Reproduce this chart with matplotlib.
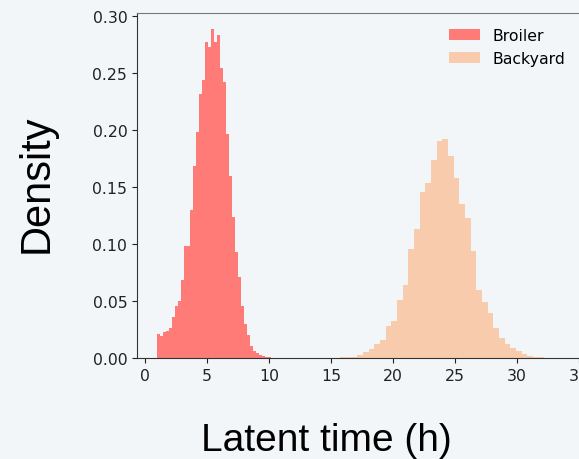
"""
Latent time distributions for broiler vs backyard flocks.
Run: python plot.py -> out.png
"""

import numpy as np
import matplotlib
matplotlib.use("Agg")
import matplotlib.pyplot as plt

# ---------------------------------------------------------------------------
# Data (histogram densities)
# ---------------------------------------------------------------------------
BROILER_START = 1.0     # left edge of first bin (h)
BROILER_WIDTH = 0.242   # bin width (h)
broiler_density = [
    0.0210, 0.0196, 0.0225, 0.0240, 0.0260, 0.0357, 0.0460, 0.0500,
    0.0680, 0.0985, 0.0985, 0.1300, 0.1680, 0.1980, 0.2316, 0.2440,
    0.2770, 0.2725, 0.2886, 0.2770, 0.2836, 0.2540, 0.2420, 0.1965,
    0.1600, 0.1240, 0.0927, 0.0708, 0.0453, 0.0298, 0.0202, 0.0108,
    0.0064, 0.0041, 0.0026, 0.0018, 0.0010, 0.0006, 0.0004, 0.0003,
    0.0002, 0.0001,
]

BACKYARD_START = 15.75
BACKYARD_WIDTH = 0.457
backyard_density = [
    0.0005, 0.0008, 0.0012, 0.0030, 0.0056, 0.0079, 0.0123, 0.0160,
    0.0284, 0.0328, 0.0509, 0.0643, 0.0956, 0.1132, 0.1453, 0.1532,
    0.1737, 0.1900, 0.1920, 0.1775, 0.1576, 0.1350, 0.1225, 0.0936,
    0.0600, 0.0494, 0.0395, 0.0266, 0.0178, 0.0123, 0.0085, 0.0059,
    0.0032, 0.0020, 0.0010, 0.0005,
]

labels = ["Broiler", "Backyard"]
x_ticks = [0, 5, 10, 15, 20, 25, 30, 35]
y_ticks = [0.00, 0.05, 0.10, 0.15, 0.20, 0.25, 0.30]

# ---------------------------------------------------------------------------
# Style
# ---------------------------------------------------------------------------
BG = "#f2f6f9"
RED = "#ff7b78"
PEACH = "#f8cbac"
W, H = 579, 460
DPI = 100


def bin_lefts(start, width, n):
    return start + width * np.arange(n)


def main() -> None:
    fig = plt.figure(figsize=(W / DPI, H / DPI), dpi=DPI, facecolor=BG)
    ax = fig.add_axes([137 / W, 101 / H, 444 / W, 345 / H])
    ax.set_facecolor(BG)

    ax.bar(bin_lefts(BROILER_START, BROILER_WIDTH, len(broiler_density)),
           broiler_density, width=BROILER_WIDTH, align="edge",
           color=RED, linewidth=0, label=labels[0])
    ax.bar(bin_lefts(BACKYARD_START, BACKYARD_WIDTH, len(backyard_density)),
           backyard_density, width=BACKYARD_WIDTH, align="edge",
           color=PEACH, linewidth=0, label=labels[1])

    ax.set_xlim(-0.645, 35.16)
    ax.set_ylim(0, 0.3026)
    ax.set_xticks(x_ticks)
    ax.set_yticks(y_ticks)
    ax.set_yticklabels([f"{v:.2f}" for v in y_ticks])
    ax.tick_params(labelsize=11.3, colors="#222222")
    for s in ax.spines.values():
        s.set_color("#333333")
    ax.spines["top"].set_color("#777777")

    ax.legend(loc="upper right", bbox_to_anchor=(572 / W, 437 / H),
              bbox_transform=fig.transFigure, frameon=False,
              fontsize=11.3, borderaxespad=0)

    # big axis titles sit outside the axes, placed in figure coords
    fig.text(326 / W, 9 / H, "Latent time (h)", ha="center", va="baseline",
             fontsize=28, family="Liberation Sans", color="black")
    fig.text(37 / W, (H - 184) / H, "Density", ha="center", va="center",
             rotation=90, fontsize=30, family="Liberation Sans",
             color="black")

    fig.savefig("out.png", dpi=DPI, facecolor=BG)


if __name__ == "__main__":
    main()
